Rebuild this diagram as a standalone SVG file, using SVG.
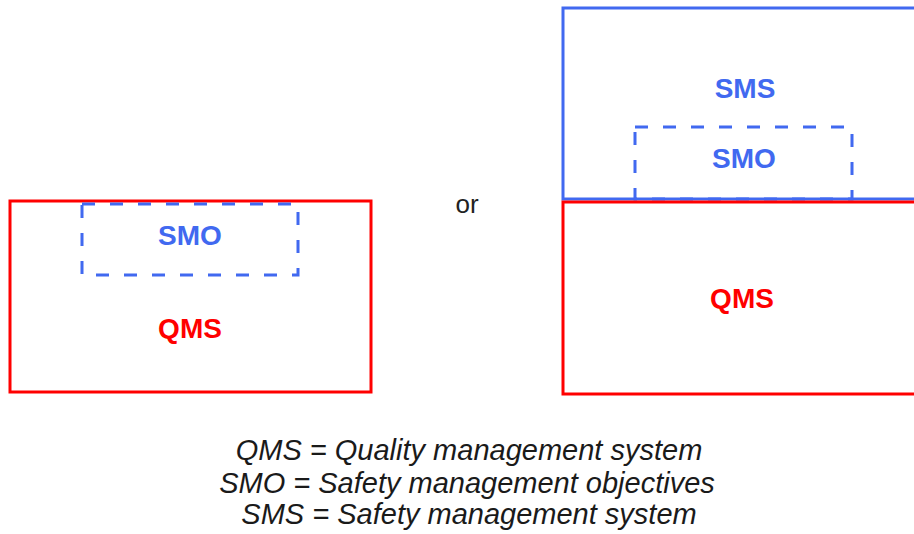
<svg xmlns="http://www.w3.org/2000/svg" width="914" height="534" viewBox="0 0 914 534">
<style>
.qms{fill:none;stroke:#FF0000;stroke-width:3}
.sms{fill:none;stroke:#4169F0;stroke-width:3}
.smo{fill:none;stroke:#4169F0;stroke-width:3;stroke-dasharray:13 15}
.lbl{font-family:"Liberation Sans",Arial,sans-serif;font-weight:bold;font-size:28px;text-anchor:middle}
.red{fill:#FF0000}
.blue{fill:#4169F0}
.leg{font-family:"Liberation Sans",Arial,sans-serif;font-style:italic;font-size:29px;text-anchor:middle;fill:#1a1a1a}
.or{font-family:"Liberation Sans",Arial,sans-serif;font-size:26px;text-anchor:middle;fill:#222}
</style>
<rect width="914" height="534" fill="#ffffff"/>
<g id="left-qms">
<rect class="qms" x="10" y="201" width="361" height="191"/>
<text class="lbl red" x="190" y="338">QMS</text>
</g>
<g id="left-smo">
<rect class="smo" x="82" y="204" width="216" height="71"/>
<text class="lbl blue" x="190" y="245">SMO</text>
</g>
<text class="or" x="467" y="213">or</text>
<g id="right-sms">
<rect class="sms" x="563" y="8" width="370" height="191"/>
<text class="lbl blue" x="745" y="98">SMS</text>
</g>
<g id="right-smo">
<rect class="smo" x="635" y="127" width="217" height="72"/>
<text class="lbl blue" x="744" y="168">SMO</text>
</g>
<g id="right-qms">
<rect class="qms" x="563" y="202" width="370" height="192"/>
<text class="lbl red" x="742" y="308">QMS</text>
</g>
<g id="connectors"></g>
<g id="legend">
<text class="leg" x="469" y="460">QMS = Quality management system</text>
<text class="leg" x="467" y="493">SMO = Safety management objectives</text>
<text class="leg" x="469" y="524">SMS = Safety management system</text>
</g>
</svg>
